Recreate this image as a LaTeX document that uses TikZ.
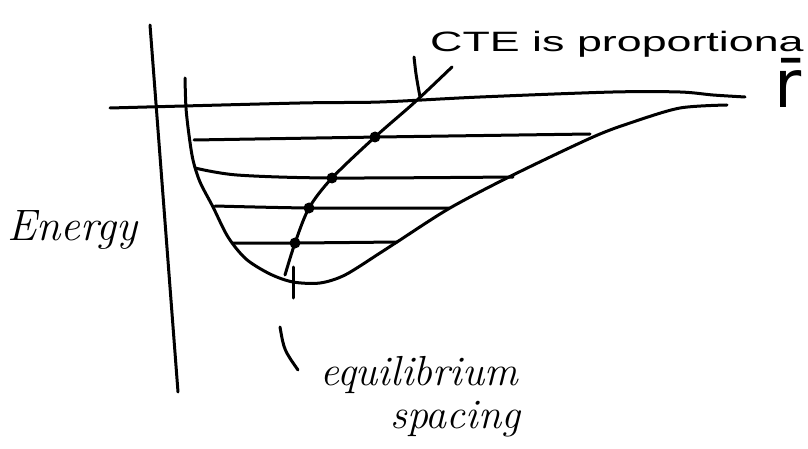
\documentclass[tikz,border=0pt]{standalone}
\usepackage{fontspec}
\setsansfont{Liberation Sans}
\newfontfamily\dejavu{DejaVu Sans}
\begin{document}
\begin{tikzpicture}[x=1pt,y=-1pt,
  pen/.style={line width=3pt,line cap=round,line join=round,black},
  dotmark/.style={circle,fill=black,inner sep=0pt,minimum size=11pt},
  hand/.style={inner sep=0pt,font=\fontsize{42}{48}\selectfont\itshape}]
\useasboundingbox (0,0) rectangle (808,449);
% axes
\draw[pen] (150,25) -- (178,392);
\draw[pen] plot[smooth] coordinates {(110,108) (300,103) (380,102) (480,97) (613,92) (680,92) (713,95) (745,97)};
% potential curve
\draw[pen] plot[smooth] coordinates {(185,78) (186,108) (189,135) (193,160) (200,182) (213,207) (228,237) (246,259) (270,274) (293,282) (320,283) (345,275) (380,253) (397,242) (450,208) (513,175) (593,137) (633,122) (680,108) (727,105)};
% energy levels
\draw[pen] plot[smooth] coordinates {(194,140) (380,137) (590,134)};
\draw[pen] plot[smooth] coordinates {(195,168) (237,175) (330,178) (513,177)};
\draw[pen] plot[smooth] coordinates {(215,206) (310,208) (449,208)};
\draw[pen] plot[smooth] coordinates {(232,243) (295,243) (397,242)};
% CTE line through midpoints
\draw[pen] plot[smooth] coordinates {(285,275) (295,243) (309,208) (332,178) (375,137) (415,102) (452,67)};
\node[dotmark] (d4) at (295,243) {};
\node[dotmark] (d3) at (309,208) {};
\node[dotmark] (d2) at (332,178) {};
\node[dotmark] (d1) at (375,137) {};
% equilibrium tick
\coordinate (eqtop) at (293,267);
\coordinate (eqbot) at (293,298);
\draw[pen] (eqtop) -- (eqbot);
% labels
\node[anchor=base west,inner sep=0pt,font=\sffamily\fontsize{28}{32}\selectfont] (cte) at (430,52) {\scalebox{1.6}[1]{CTE is proportiona}};
\coordinate (lead1) at (414,57);
\coordinate (lead2) at (420,97);
\draw[pen] (lead1) .. controls (416,75) .. (lead2);
\node[anchor=base west,inner sep=0pt,font=\dejavu\fontsize{66}{76}\selectfont] (rbar) at (774,108) {r̄};
\node[hand,anchor=base west,font=\fontsize{44}{50}\selectfont\itshape] (energy) at (7,240) {Energy};
\coordinate (eq1) at (280,327);
\coordinate (eq2) at (298,370);
\draw[pen] (eq1) .. controls (284,350) .. (eq2);
\node[hand,anchor=base west] (equil) at (320,385) {equilibrium};
\node[hand,anchor=base west] (spacing) at (390,428) {spacing};
\end{tikzpicture}
\end{document}
